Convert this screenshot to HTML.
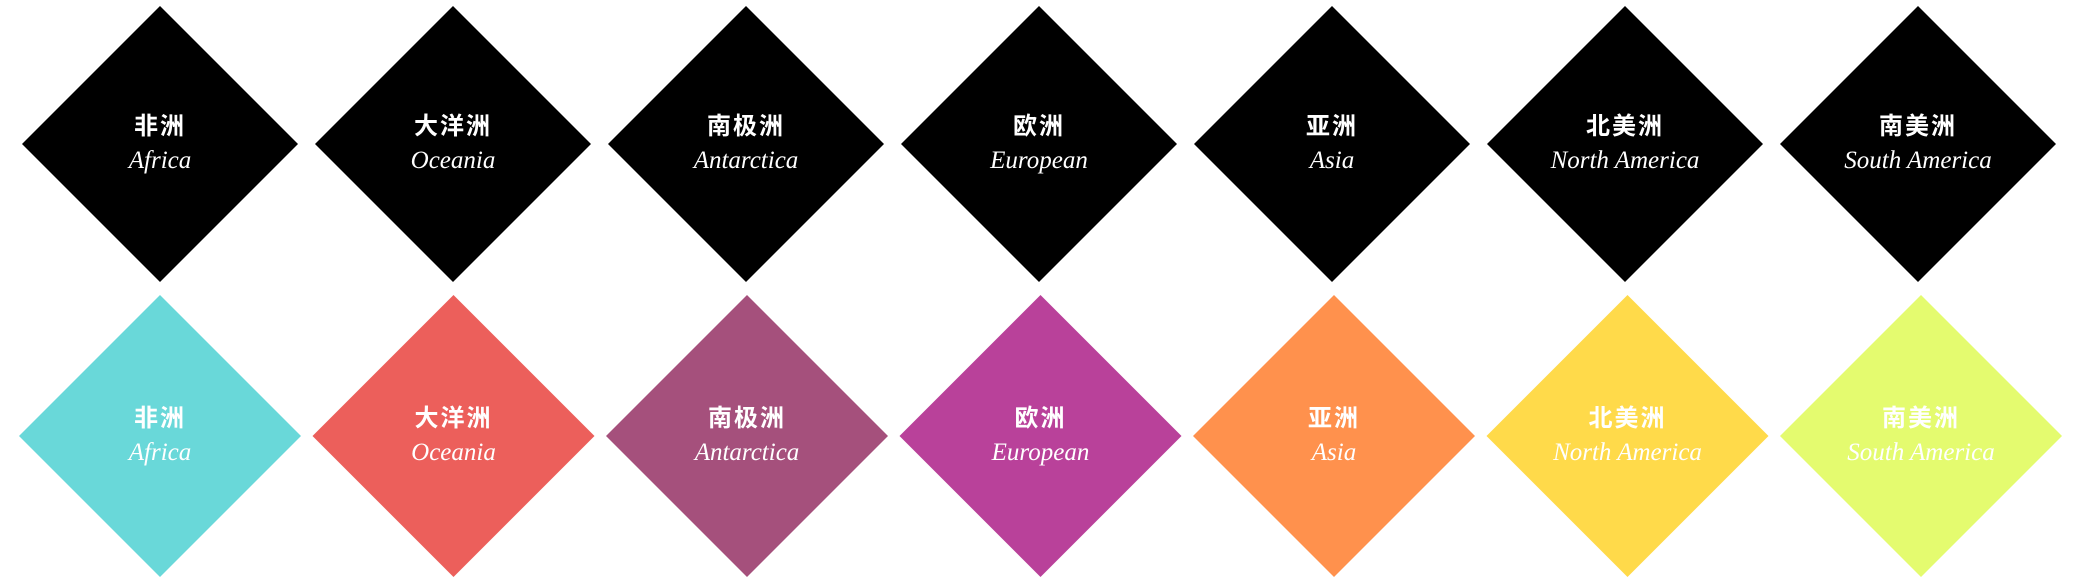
<!DOCTYPE html>
<html><head><meta charset="utf-8">
<style>
html,body{margin:0;padding:0;background:#fff;}
svg{display:block;}
.cn{font-family:"Liberation Sans","Noto Sans CJK SC",sans-serif;font-weight:bold;fill:#fff;font-size:24px;letter-spacing:2px;}
.en{font-family:"Liberation Serif",serif;font-style:italic;fill:#fff;font-size:25px;}
</style></head>
<body>
<svg id="chart" width="2085" height="585" viewBox="0 0 2085 585"></svg>
<script>
const cnNames = ["非洲","大洋洲","南极洲","欧洲","亚洲","北美洲","南美洲"];
const enNames = ["Africa","Oceania","Antarctica","European","Asia","North America","South America"];
const topColors = ["#000000","#000000","#000000","#000000","#000000","#000000","#000000"];
const bottomColors = ["#69d8d9","#ec5f5b","#a5507c","#b9419a","#ff914d","#ffda4a","#e4fb6f"];

const svg = document.getElementById('chart');
const NS = 'http://www.w3.org/2000/svg';
function drawRow(colors, cy, half, rowName, x0, step){
  colors.forEach((c,i)=>{
    const g = document.createElementNS(NS,'g');
    
    
    const x = x0 + i*step;
    const p = document.createElementNS(NS,'polygon');
    p.setAttribute('points', `${x},${cy-half} ${x+half},${cy} ${x},${cy+half} ${x-half},${cy}`);
    p.setAttribute('fill', c);
    
    
    g.appendChild(p);
    const t1 = document.createElementNS(NS,'text');
    t1.setAttribute('x', x); t1.setAttribute('y', cy-10);
    t1.setAttribute('text-anchor','middle'); t1.setAttribute('class','cn');
    t1.textContent = cnNames[i];
    
    
    g.appendChild(t1);
    const t2 = document.createElementNS(NS,'text');
    t2.setAttribute('x', x); t2.setAttribute('y', cy+24);
    t2.setAttribute('text-anchor','middle'); t2.setAttribute('class','en');
    t2.textContent = enNames[i];
    
    
    g.appendChild(t2);
    svg.appendChild(g);
  });
}
drawRow(topColors, 144, 138, 'black-diamond', 160, 293);
drawRow(bottomColors, 436, 141, 'color-diamond', 160, 293.5);
</script>
</body></html>
